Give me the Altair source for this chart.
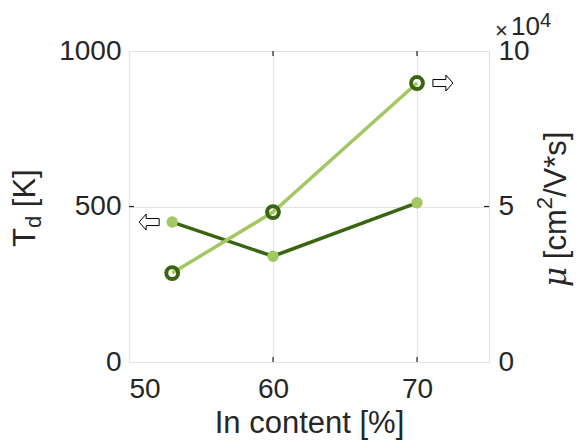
import altair as alt
import pandas as pd

# ---- data ----
in_content = [53, 60, 70]
td_values = [450, 340, 512]          # T_d [K]
mu_values = [28600, 48200, 89700]    # mobility [cm^2/V*s]

x_ticks = [50, 60, 70]
td_ticks = [0, 500, 1000]
mu_ticks = [0, 50000, 100000]

arrow_left_x = [51.4]
arrow_left_td = [450]
arrow_right_x = [71.8]
arrow_right_mu = [89700]

DARK = "#3a6410"
LIGHT = "#a3c862"
TXT = "#262626"
FONT = "Liberation Sans"
W, H = 360, 311
TFS = 31      # axis title font size
SFS = 22      # sub/superscript size
LFS = 28      # tick label size
SP = 0.278 * TFS   # width of a space

df = pd.DataFrame({"x": in_content, "td": td_values, "mu": mu_values})
df_al = pd.DataFrame({"x": arrow_left_x, "td": arrow_left_td})
df_ar = pd.DataFrame({"x": arrow_right_x, "mu": arrow_right_mu})
df_xt = pd.DataFrame({"x": x_ticks[1:]})
one = df.head(1)

X = alt.X("x:Q", scale=alt.Scale(domain=[50, 75], nice=False),
          axis=alt.Axis(values=x_ticks, grid=True, gridColor="#e3e3e3", gridWidth=1.2,
                        domain=False, ticks=False, tickSize=0, labelFont=FONT,
                        labelFontSize=LFS, labelColor=TXT, labelPadding=13, format="d",
                        title="In content [%]", titleFont=FONT, titleFontSize=TFS,
                        titleFontWeight="normal", titleColor=TXT, titlePadding=5))
YL = alt.Y("td:Q", scale=alt.Scale(domain=[0, 1000], nice=False),
           axis=alt.Axis(values=td_ticks, grid=True, gridColor="#e3e3e3", gridWidth=1.2,
                         domain=False, ticks=False, tickSize=0, labelFont=FONT, format="d",
                         labelFontSize=LFS, labelColor=TXT, labelPadding=8, title=None))
YR = alt.Y("mu:Q", scale=alt.Scale(domain=[0, 100000], nice=False),
           axis=alt.Axis(orient="right", values=mu_ticks, labelExpr="datum.value/10000",
                         grid=False, domain=False, ticks=False, tickSize=0, labelFont=FONT,
                         labelFontSize=LFS, labelColor=TXT, labelPadding=9, title=None))

LARROW = "M -1 0 L -0.3 -0.8 L -0.3 -0.35 L 1 -0.35 L 1 0.35 L -0.3 0.35 L -0.3 0.8 Z"
RARROW = "M 1 0 L 0.3 -0.8 L 0.3 -0.35 L -1 -0.35 L -1 0.35 L 0.3 0.35 L 0.3 0.8 Z"


def txt(s, x, y, size=TFS, font=FONT, angle=0, style="normal"):
    return alt.Chart(one).mark_text(text=s, font=font, fontSize=size, angle=angle,
                                    fontStyle=style, align="left", baseline="alphabetic",
                                    color=TXT).encode(x=alt.value(x), y=alt.value(y))


td_line = alt.Chart(df).mark_line(color=DARK, strokeWidth=3.5).encode(x=X, y=YL)
td_pts = alt.Chart(df).mark_circle(color=LIGHT, size=130, opacity=1).encode(x=X, y=YL)
l_arrow = alt.Chart(df_al).mark_point(shape=LARROW, size=400, fill="white", fillOpacity=1,
                                      stroke="black", strokeWidth=1, opacity=1).encode(x=X, y=YL)

# inward ticks
xt_bot = alt.Chart(df_xt).mark_rule(color=TXT, strokeWidth=1.2).encode(
    x=X, y=alt.value(H), y2=alt.value(H - 5))
xt_top = alt.Chart(df_xt).mark_rule(color=TXT, strokeWidth=1.2).encode(
    x=X, y=alt.value(0), y2=alt.value(5))
yt_left = alt.Chart(pd.DataFrame({"td": [500]})).mark_rule(color=TXT, strokeWidth=1.2).encode(
    y=YL, x=alt.value(0), x2=alt.value(5))

# left axis title  T_d [K]  (reads bottom to top)
t0 = 196
t1 = t0 - 0.611 * TFS
t2 = t1 - 0.556 * SFS - SP
tl_T = txt("T", -94, t0, angle=270)
tl_d = txt("d", -88, t1, size=SFS, angle=270)
tl_K = txt("[K]", -94, t2, angle=270)

left = alt.layer(td_line, td_pts, l_arrow, xt_bot, xt_top, yt_left, tl_T, tl_d, tl_K)

mu_line = alt.Chart(df).mark_line(color=LIGHT, strokeWidth=3.5).encode(x=X, y=YR)
mu_pts = alt.Chart(df).mark_point(shape="circle", size=140, filled=False, stroke=DARK,
                                  strokeWidth=4, opacity=1).encode(x=X, y=YR)
r_arrow = alt.Chart(df_ar).mark_point(shape=RARROW, size=400, fill="white", fillOpacity=1,
                                      stroke="black", strokeWidth=1, opacity=1).encode(x=X, y=YR)
yt_right = alt.Chart(pd.DataFrame({"mu": [50000]})).mark_rule(color=TXT, strokeWidth=1.2).encode(
    y=YR, x=alt.value(W), x2=alt.value(W - 5))

# right axis title  mu [cm^2/V*s]  (reads bottom to top)
bx = 437
r0 = 236
r1 = r0 - 0.62 * TFS - SP
r2 = r1 - 1.611 * TFS
r3 = r2 - 0.556 * SFS
tr_mu = txt("μ", bx, r0, font="DejaVu Serif", style="italic", angle=270)
tr_a = txt("[cm", bx, r1, angle=270)
tr_2 = txt("2", bx - 14, r2, size=SFS, angle=270)
tr_b = txt("/V*s]", bx, r3, angle=270)

# x10^4 exponent label
ex_x = txt("×", 366, -13, size=22)
ex_10 = txt("10", 382, -16, size=26)
ex_4 = txt("4", 411, -24, size=20)

right = alt.layer(mu_line, mu_pts, r_arrow, yt_right, tr_mu, tr_a, tr_2, tr_b, ex_x, ex_10, ex_4)

chart = alt.layer(left, right).resolve_scale(y="independent").properties(
    width=W, height=H,
    autosize=alt.AutoSizeParams(type="none"),
    padding={"left": 121, "top": 43, "right": 85, "bottom": 78},
).configure_view(stroke=TXT, strokeWidth=1.5).configure(background="white")

chart.save("out.html", embed_options={"renderer": "svg", "actions": False})
